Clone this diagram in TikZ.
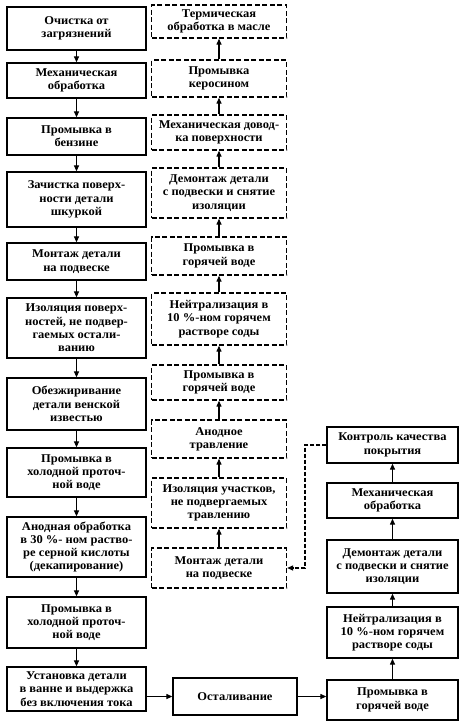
\documentclass[tikz,border=0pt]{standalone}
\usepackage{fontspec}
\setmainfont{Liberation Serif}[FakeStretch=1.05]
\usetikzlibrary{arrows.meta}
\begin{document}
\begin{tikzpicture}[x=1pt,y=-1pt,
  sbox/.style={draw, line width=1.3pt, align=center, inner sep=1pt,
    font=\bfseries\fontsize{11.9}{13.3}\selectfont},
  dbox/.style={sbox, dash pattern=on 5pt off 2.5pt},
  lcol/.style={minimum width=139pt},
  mcol/.style={minimum width=135pt},
  rcol/.style={minimum width=131pt},
  arr/.style={-{Triangle[length=6pt,width=5pt]}, line width=1.2pt},
  darr/.style={arr, dash pattern=on 4pt off 2pt}]
\fill[white] (0,0) rectangle (470,724);
\useasboundingbox (0,0) rectangle (470,724);
% left column
\node[sbox,lcol,minimum height=43pt] (l1) at (76.5,28.5) {Очистка от\\загрязнений};
\node[sbox,lcol,minimum height=35pt] (l2) at (76.5,80.5) {Механическая\\обработка};
\node[sbox,lcol,minimum height=37pt] (l3) at (76.5,136.5) {Промывка в\\бензине};
\node[sbox,lcol,minimum height=55pt] (l4) at (76.5,199.5) {Зачистка поверх-\\ности детали\\шкуркой};
\node[sbox,lcol,minimum height=37pt] (l5) at (76.5,261.5) {Монтаж детали\\на подвеске};
\node[sbox,lcol,minimum height=60pt] (l6) at (76.5,328) {Изоляция поверх-\\ностей, не подвер-\\гаемых остали-\\ванию};
\node[sbox,lcol,minimum height=52pt] (l7) at (76.5,404) {Обезжиривание\\детали венской\\известью};
\node[sbox,lcol,minimum height=49pt] (l8) at (76.5,472.5) {Промывка в\\холодной проточ-\\ной воде};
\node[sbox,lcol,minimum height=60pt] (l9) at (76.5,547) {Анодная обработка\\в 30 \%- ном раство-\\ре серной кислоты\\(декапирование)};
\node[sbox,lcol,minimum height=51pt] (l10) at (76.5,622.5) {Промывка в\\холодной проточ-\\ной воде};
\node[sbox,lcol,minimum height=44pt] (l11) at (76.5,689) {Установка детали\\в ванне и выдержка\\без включения тока};
% middle column
\node[dbox,mcol,minimum height=33pt] (m1) at (219,21.5) {Термическая\\обработка в масле};
\node[dbox,mcol,minimum height=37pt] (m2) at (219,78.5) {Промывка\\керосином};
\node[dbox,mcol,minimum height=35pt] (m3) at (219,132.5) {Механическая довод-\\ка поверхности};
\node[dbox,mcol,minimum height=50pt] (m4) at (219,193) {Демонтаж детали\\с подвески и снятие\\изоляции};
\node[dbox,mcol,minimum height=38pt] (m5) at (219,256) {Промывка в\\горячей воде};
\node[dbox,mcol,minimum height=52pt] (m6) at (219,319) {Нейтрализация в\\10 \%-ном горячем\\растворе соды};
\node[dbox,mcol,minimum height=35pt] (m7) at (219,382.5) {Промывка в\\горячей воде};
\node[dbox,mcol,minimum height=38pt] (m8) at (219,439) {Анодное\\травление};
\node[dbox,mcol,minimum height=50pt] (m9) at (219,503) {Изоляция участков,\\не подвергаемых\\травлению};
\node[dbox,mcol,minimum height=40pt] (m10) at (219,568) {Монтаж детали\\на подвеске};
% bottom middle
\node[sbox,minimum width=124pt,minimum height=37pt] (ost) at (235,696.5) {Осталивание};
% right column
\node[sbox,rcol,minimum height=36pt] (r1) at (392.5,445) {Контроль качества\\покрытия};
\node[sbox,rcol,minimum height=35pt] (r2) at (392.5,500.5) {Механическая\\обработка};
\node[sbox,rcol,minimum height=53pt] (r3) at (392.5,566.5) {Демонтаж детали\\с подвески и снятие\\изоляции};
\node[sbox,rcol,minimum height=51pt] (r4) at (392.5,632.5) {Нейтрализация в\\10 \%-ном горячем\\растворе соды};
\node[sbox,rcol,minimum height=40pt] (r5) at (392.5,700) {Промывка в\\горячей воде};
% left arrows (down)
\foreach \a/\b in {l1/l2,l2/l3,l3/l4,l4/l5,l5/l6,l6/l7,l7/l8,l8/l9,l9/l10,l10/l11}
  \draw[arr] (\a.south) -- (\b.north);
% middle arrows (up)
\foreach \a/\b in {m10/m9,m9/m8,m8/m7,m7/m6,m6/m5,m5/m4,m4/m3,m3/m2,m2/m1}
  \draw[arr] (\a.north) -- (\b.south);
% right arrows (up)
\foreach \a/\b in {r5/r4,r4/r3,r3/r2,r2/r1}
  \draw[arr] (\a.north) -- (\b.south);
% bottom chain
\draw[arr] (l11.east |- ost.west) -- (ost.west);
\draw[arr] (ost.east) -- (r5.west |- ost.east);
% dashed return
\coordinate (dk) at (305,445);
\draw[darr] (r1.west) -- (dk) |- (m10.east);
\end{tikzpicture}
\end{document}
